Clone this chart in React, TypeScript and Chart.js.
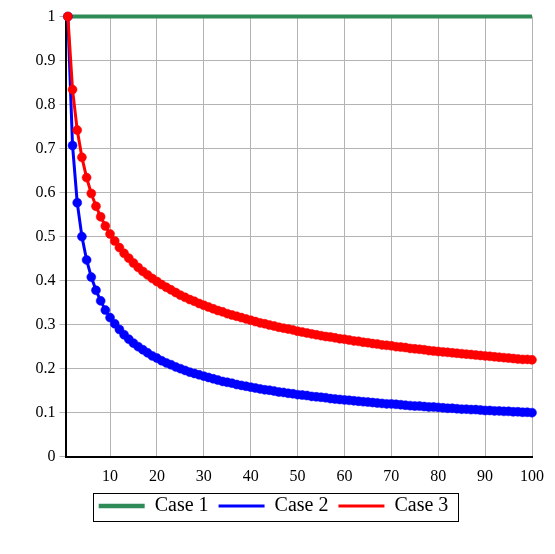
import React, { useEffect, useRef } from "react";
import { Chart, registerables } from "chart.js";

Chart.register(...registerables);

const steps = [
  1, 2, 3, 4, 5, 6, 7, 8, 9, 10, 11, 12, 13, 14, 15, 16, 17, 18, 19, 20,
  21, 22, 23, 24, 25, 26, 27, 28, 29, 30, 31, 32, 33, 34, 35, 36, 37, 38, 39, 40,
  41, 42, 43, 44, 45, 46, 47, 48, 49, 50, 51, 52, 53, 54, 55, 56, 57, 58, 59, 60,
  61, 62, 63, 64, 65, 66, 67, 68, 69, 70, 71, 72, 73, 74, 75, 76, 77, 78, 79, 80,
  81, 82, 83, 84, 85, 86, 87, 88, 89, 90, 91, 92, 93, 94, 95, 96, 97, 98, 99, 100,
];

const case1 = [
  1, 1, 1, 1, 1, 1, 1, 1, 1, 1, 1, 1, 1, 1, 1, 1, 1, 1, 1, 1,
  1, 1, 1, 1, 1, 1, 1, 1, 1, 1, 1, 1, 1, 1, 1, 1, 1, 1, 1, 1,
  1, 1, 1, 1, 1, 1, 1, 1, 1, 1, 1, 1, 1, 1, 1, 1, 1, 1, 1, 1,
  1, 1, 1, 1, 1, 1, 1, 1, 1, 1, 1, 1, 1, 1, 1, 1, 1, 1, 1, 1,
  1, 1, 1, 1, 1, 1, 1, 1, 1, 1, 1, 1, 1, 1, 1, 1, 1, 1, 1, 1,
];

const case2 = [
  1, 0.707, 0.577, 0.5, 0.447, 0.408, 0.378, 0.354, 0.333, 0.316,
  0.302, 0.289, 0.277, 0.267, 0.258, 0.25, 0.243, 0.236, 0.229, 0.224,
  0.218, 0.213, 0.209, 0.204, 0.2, 0.196, 0.192, 0.189, 0.186, 0.183,
  0.18, 0.177, 0.174, 0.171, 0.169, 0.167, 0.164, 0.162, 0.16, 0.158,
  0.156, 0.154, 0.152, 0.151, 0.149, 0.147, 0.146, 0.144, 0.143, 0.141,
  0.14, 0.139, 0.137, 0.136, 0.135, 0.134, 0.132, 0.131, 0.13, 0.129,
  0.128, 0.127, 0.126, 0.125, 0.124, 0.123, 0.122, 0.121, 0.12, 0.12,
  0.119, 0.118, 0.117, 0.116, 0.115, 0.115, 0.114, 0.113, 0.113, 0.112,
  0.111, 0.11, 0.11, 0.109, 0.108, 0.108, 0.107, 0.107, 0.106, 0.105,
  0.105, 0.104, 0.104, 0.103, 0.103, 0.102, 0.102, 0.101, 0.101, 0.1,
];

const case3 = [
  1, 0.834, 0.742, 0.68, 0.634, 0.598, 0.569, 0.545, 0.524, 0.506,
  0.49, 0.475, 0.462, 0.451, 0.44, 0.43, 0.421, 0.413, 0.405, 0.398,
  0.391, 0.385, 0.379, 0.373, 0.367, 0.362, 0.357, 0.353, 0.348, 0.344,
  0.34, 0.336, 0.332, 0.329, 0.325, 0.322, 0.319, 0.316, 0.313, 0.31,
  0.307, 0.304, 0.302, 0.299, 0.297, 0.294, 0.292, 0.29, 0.288, 0.285,
  0.283, 0.281, 0.279, 0.277, 0.275, 0.273, 0.272, 0.27, 0.268, 0.267,
  0.265, 0.263, 0.262, 0.26, 0.259, 0.257, 0.256, 0.254, 0.253, 0.252,
  0.25, 0.249, 0.248, 0.246, 0.245, 0.244, 0.243, 0.241, 0.24, 0.239,
  0.238, 0.237, 0.236, 0.235, 0.234, 0.233, 0.232, 0.231, 0.23, 0.229,
  0.228, 0.227, 0.226, 0.225, 0.224, 0.223, 0.222, 0.221, 0.221, 0.22,
];

const xTicks = [10, 20, 30, 40, 50, 60, 70, 80, 90, 100];
const seriesNames = ["Case 1", "Case 2", "Case 3"];
const seriesColors = ["#2e8b57", "#0000ff", "#ff0000"];

const FONT = "'Liberation Serif', 'Times New Roman', serif";

const legendFrame = {
  id: "legendFrame",
  afterDraw(chart: any) {
    const lg = chart.legend;
    if (!lg || !lg.legendHitBoxes || !lg.legendHitBoxes.length) return;
    const hb = lg.legendHitBoxes;
    const first = hb[0];
    const last = hb[hb.length - 1];
    const left = first.left - 6;
    const right = last.left + last.width + 9;
    const top = first.top - 3.5;
    const bottom = first.top + first.height + 4.5;
    const ctx = chart.ctx;
    ctx.save();
    ctx.strokeStyle = "#000";
    ctx.lineWidth = 1;
    ctx.strokeRect(Math.round(left) + 0.5, Math.round(top) + 0.5, Math.round(right - left), Math.round(bottom - top));
    ctx.restore();
  },
};

export default function App() {
  const ref = useRef<HTMLCanvasElement | null>(null);

  useEffect(() => {
    if (!ref.current) return;
    const mk = (vals: number[], i: number, order: number, withPoints: boolean) => ({
      label: seriesNames[i],
      data: steps.map((x, k) => ({ x, y: vals[k] })),
      borderColor: seriesColors[i],
      backgroundColor: seriesColors[i],
      borderWidth: i === 0 ? 4 : 3,
      pointRadius: withPoints ? 4.5 : 0,
      pointBorderWidth: 0.5,
      pointHoverRadius: withPoints ? 4.5 : 0,
      tension: 0,
      clip: false,
      order,
    });
    const chart = new Chart(ref.current, {
      type: "line",
      data: {
        datasets: [
          mk(case1, 0, 2, false),
          mk(case2, 1, 1, true),
          mk(case3, 2, 0, true),
        ],
      },
      options: {
        responsive: false,
        animation: false,
        devicePixelRatio: 1,
        layout: { padding: { top: 16.5, right: 8, bottom: 28, left: 0 } },
        plugins: {
          tooltip: { enabled: false },
          legend: {
            position: "bottom",
            labels: {
              usePointStyle: true,
              pointStyle: "line",
              pointStyleWidth: 46,
              font: { family: FONT, size: 20 },
              color: "#000",
              padding: 10,
              sort: (a: any, b: any) => a.datasetIndex - b.datasetIndex,
              generateLabels: (ch: any) =>
                ch.data.datasets.map((ds: any, i: number) => ({
                  text: ds.label,
                  datasetIndex: i,
                  strokeStyle: ds.borderColor,
                  fillStyle: ds.borderColor,
                  fontColor: "#000",
                  lineWidth: i === 0 ? 4.5 : 3,
                  pointStyle: "line",
                  hidden: false,
                })),
            },
          },
        },
        scales: {
          x: {
            type: "linear",
            min: 0.5,
            max: 100,
            afterBuildTicks: (s: any) => {
              s.ticks = xTicks.map((v) => ({ value: v }));
            },
            afterFit: (s: any) => {
              s.height = 29.3;
            },
            grid: { color: "#b4b4b4", lineWidth: 1, drawTicks: false },
            border: { color: "#000", width: 2 },
            ticks: {
              font: { family: FONT, size: 16 },
              color: "#000",
              padding: 10,
              maxRotation: 0,
              autoSkip: false,
            },
          },
          y: {
            type: "linear",
            min: 0,
            max: 1,
            afterFit: (s: any) => {
              s.width = 65.5;
            },
            grid: { color: "#b4b4b4", lineWidth: 1, tickLength: 6 },
            border: { color: "#000", width: 2 },
            ticks: {
              stepSize: 0.1,
              font: { family: FONT, size: 16 },
              color: "#000",
              padding: 4,
              callback: (v: any) => String(parseFloat(Number(v).toFixed(1))),
            },
          },
          yRight: {
            type: "linear",
            position: "right",
            display: true,
            afterFit: (s: any) => {
              s.width = 15;
            },
            grid: { display: false, drawTicks: false },
            border: { display: false },
            ticks: { display: false },
          },
        },
      },
      plugins: [legendFrame],
    } as any);
    return () => chart.destroy();
  }, []);

  return (
    <div style={{ position: "absolute", left: 0, top: 0, width: 555, height: 554, background: "#fff" }}>
      <canvas ref={ref} width={555} height={554} />
    </div>
  );
}
